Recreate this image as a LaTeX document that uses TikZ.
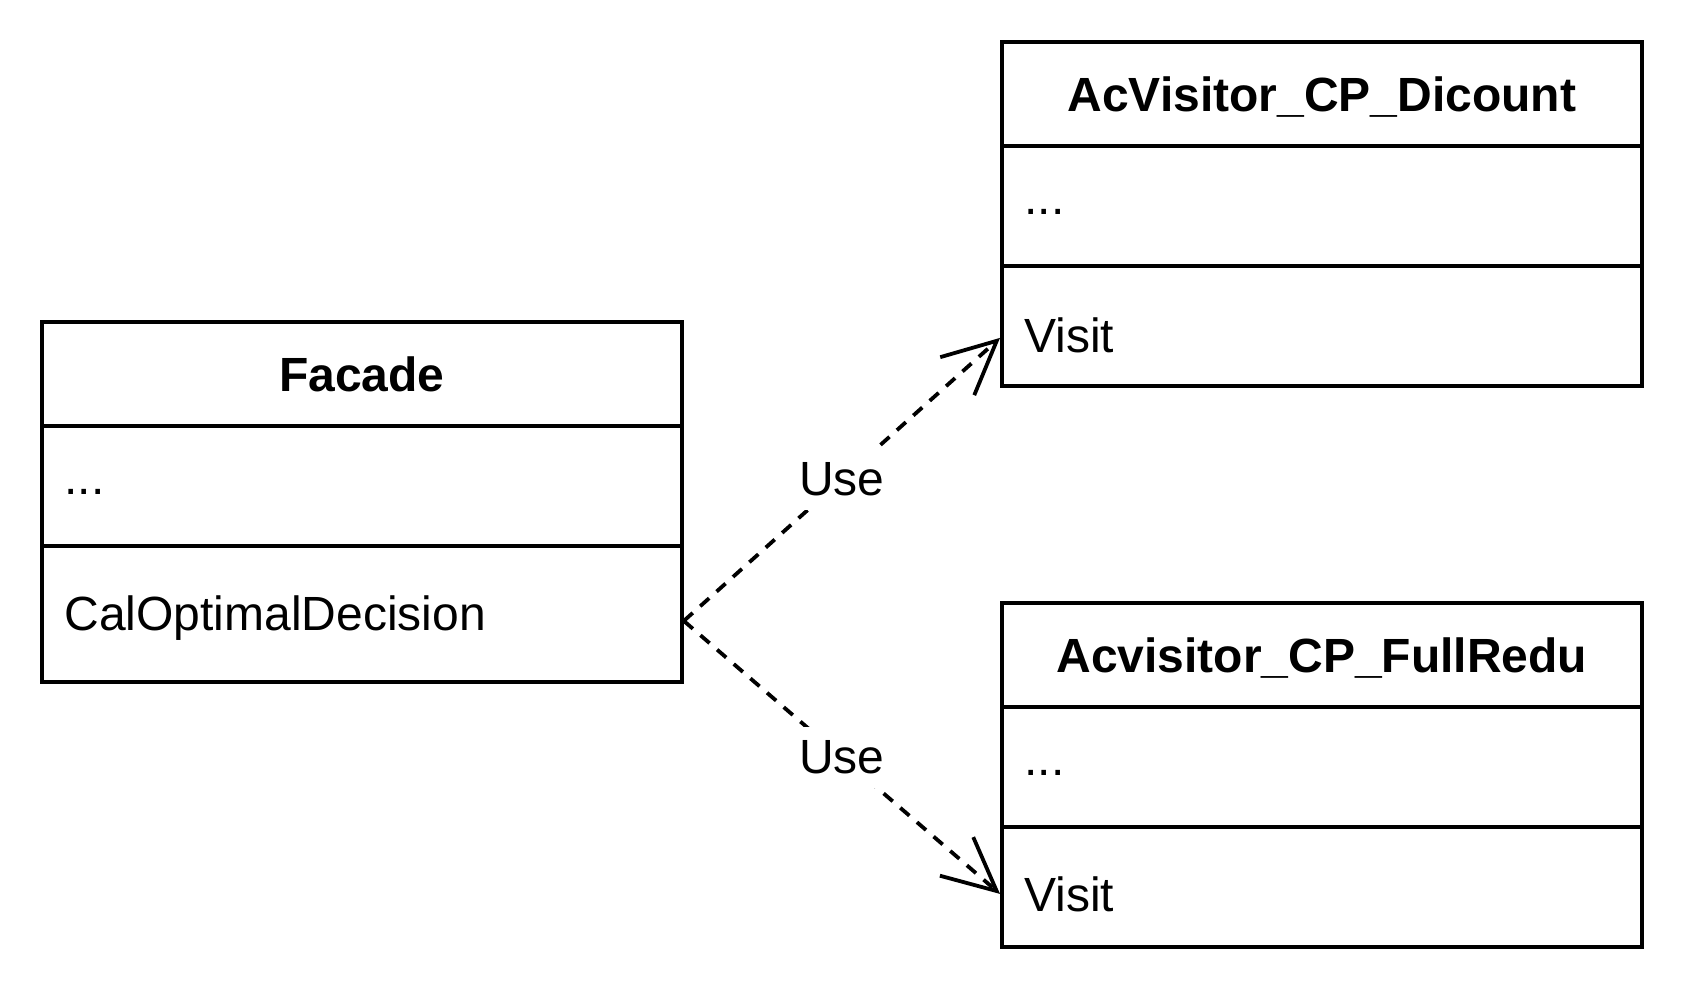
\documentclass[tikz,border=0pt]{standalone}
\usepackage{fontspec}
\setmainfont{Liberation Sans}
\usetikzlibrary{arrows.meta,calc}
\begin{document}
\begin{tikzpicture}[x=0.5pt,y=-0.5pt,
  comp/.style={draw=black,line width=1.9pt,rectangle,inner sep=0pt,minimum width=320pt,anchor=north west},
  titletext/.style={font=\bfseries\fontsize{24}{28}\selectfont,inner sep=0pt,anchor=base},
  fieldtext/.style={font=\fontsize{24}{28}\selectfont,inner sep=0pt,anchor=base west},
  dep/.style={line width=1.9pt,dash pattern=on 6pt off 5pt,-{Straight Barb[length=26.5pt,width=25.5pt]}},
  lbl/.style={font=\fontsize{24}{28}\selectfont,fill=white,inner xsep=1pt,inner ysep=7pt}]
\useasboundingbox (0,0) rectangle (1684,1000);
% Facade
\node[comp,minimum height=52pt] (fH) at (40,320) {};
\node[comp,minimum height=60pt] (fA) at (40,424) {};
\node[comp,minimum height=68pt] (fM) at (40,544) {};
\node[titletext] (fHt) at ($(fH.north)+(0,71)$) {Facade};
\node[fieldtext] (fAt) at ($(fA.north west)+(24,70)$) {...};
\node[fieldtext] (fMt) at ($(fM.north west)+(24,86)$) {CalOptimalDecision};
% AcVisitor_CP_Dicount
\node[comp,minimum height=52pt] (tH) at (1000,40) {};
\node[comp,minimum height=60pt] (tA) at (1000,144) {};
\node[comp,minimum height=60pt] (tM) at (1000,264) {};
\node[titletext] (tHt) at ($(tH.north)+(0,72)$) {AcVisitor\_CP\_Dicount};
\node[fieldtext] (tAt) at ($(tA.north west)+(24,70)$) {...};
\node[fieldtext] (tMt) at ($(tM.north west)+(24,88)$) {Visit};
% Acvisitor_CP_FullRedu
\node[comp,minimum height=52pt] (bH) at (1000,601) {};
\node[comp,minimum height=60pt] (bA) at (1000,705) {};
\node[comp,minimum height=60pt] (bM) at (1000,825) {};
\node[titletext] (bHt) at ($(bH.north)+(0,71)$) {Acvisitor\_CP\_FullRedu};
\node[fieldtext] (bAt) at ($(bA.north west)+(24,70)$) {...};
\node[fieldtext] (bMt) at ($(bM.north west)+(24,86)$) {Visit};
% dependencies
\draw[dep] ([yshift=-3.5pt]fM.east) -- node[lbl] (u1) {Use} ([yshift=-6pt]tM.west);
\draw[dep] ([yshift=-3.5pt]fM.east) -- node[lbl] (u2) {Use} ([yshift=-3.5pt]bM.west);
\end{tikzpicture}
\end{document}
